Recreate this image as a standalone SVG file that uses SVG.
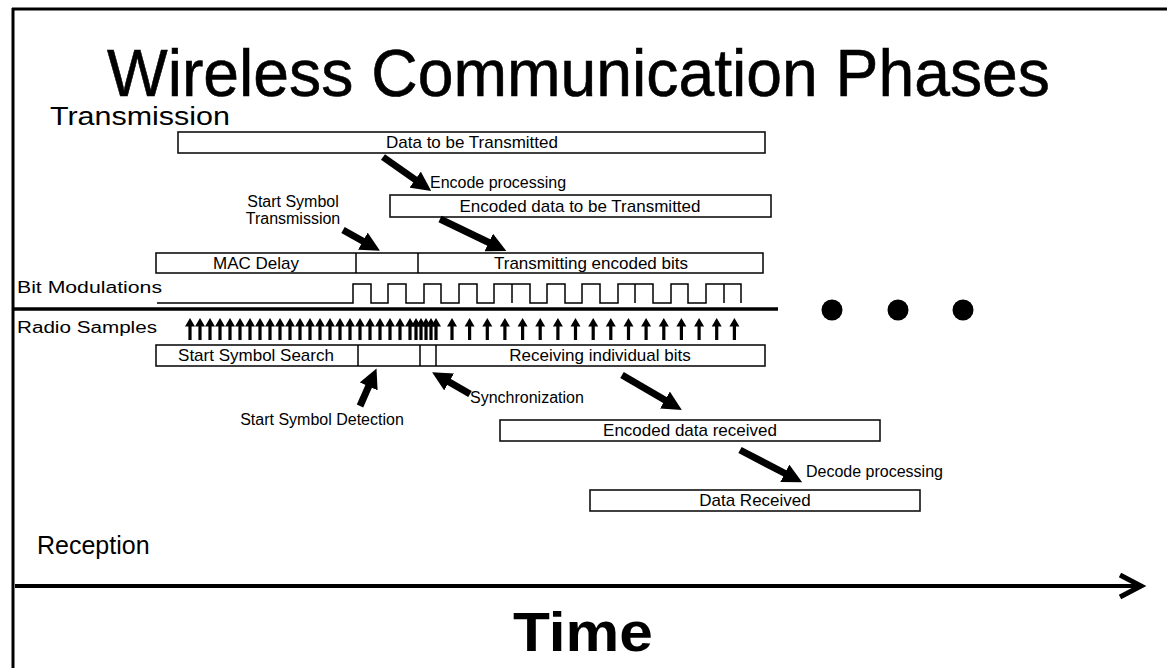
<svg xmlns="http://www.w3.org/2000/svg" xmlns:xlink="http://www.w3.org/1999/xlink" width="1167" height="668" viewBox="0 0 1167 668">
<style>
text{font-family:"Liberation Sans",Arial,sans-serif;fill:#000}
.box{fill:#fff;stroke:#111;stroke-width:1.6}
.bt{font-size:17px;text-anchor:middle}
.lbl{font-size:16px}
.fat{stroke:#000;stroke-width:7;fill:none;marker-end:url(#fah)}
.thin{stroke:#000;stroke-width:1.5;fill:none}
</style>
<defs>
<marker id="fah" viewBox="0 0 10 10" refX="3" refY="5" markerWidth="2.8" markerHeight="2.8" orient="auto" markerUnits="strokeWidth">
<path d="M0,0 L10,5 L0,10 z" fill="#000"/>
</marker>
<path id="up" d="M0,0 L5,8.5 L1.6,8.5 L1.6,22 L-1.6,22 L-1.6,8.5 L-5,8.5 z" fill="#000"/>
</defs>
<rect width="1167" height="668" fill="#fff"/>
<g id="frame">
<line x1="12" y1="9" x2="1167" y2="9" stroke="#000" stroke-width="3"/>
<line x1="13" y1="8" x2="13" y2="668" stroke="#000" stroke-width="3"/>
</g>
<g id="title"><text x="107" y="96" font-size="66" textLength="943" lengthAdjust="spacingAndGlyphs" stroke="#000" stroke-width="0.6">Wireless Communication Phases</text></g>
<g id="transmission-label"><text x="50" y="125" font-size="26" textLength="180" lengthAdjust="spacingAndGlyphs">Transmission</text></g>
<g id="data-tx"><rect class="box" x="178" y="132" width="587" height="21"/><text class="bt" x="472" y="148">Data to be Transmitted</text></g>
<g id="encode-label"><text class="lbl" x="430" y="188">Encode processing</text></g>
<g id="start-symbol-label"><text class="lbl" x="293" y="207" text-anchor="middle">Start Symbol</text><text class="lbl" x="293" y="224" text-anchor="middle">Transmission</text></g>
<g id="encoded-tx"><rect class="box" x="390" y="195" width="381" height="22"/><text class="bt" x="580" y="212">Encoded data to be Transmitted</text></g>
<g id="tx-row"><rect class="box" x="156" y="253" width="607" height="20"/><line class="thin" x1="356" y1="253" x2="356" y2="273"/><line class="thin" x1="418" y1="253" x2="418" y2="273"/><text class="bt" x="256" y="269">MAC Delay</text><text class="bt" x="591" y="269">Transmitting encoded bits</text></g>
<g id="bit-mod"><text class="lbl" x="17" y="293" font-size="15" textLength="145" lengthAdjust="spacingAndGlyphs">Bit Modulations</text>
<path class="thin" d="M157,303 H353 V284 H371 V303 H388 V284 H406 V303 H424 V284 H441 V303 H459 V284 H477 V303 H494 V284 H530 V303 H547 V284 H565 V303 H582 V284 H600 V303 H618 V284 H653 V303 H671 V284 H688 V303 H706 V284 H741 V303 M512,284 V303 M635,284 V303 M724,284 V303"/></g>
<g id="divider"><line x1="13" y1="309" x2="778" y2="309" stroke="#000" stroke-width="3.5"/></g>
<g id="dots"><circle cx="832" cy="310" r="10.5"/><circle cx="898" cy="310" r="10.5"/><circle cx="963" cy="310" r="10.5"/></g>
<g id="radio"><text class="lbl" x="17" y="333" font-size="15" textLength="140" lengthAdjust="spacingAndGlyphs">Radio Samples</text>
<use xlink:href="#up" x="190" y="318"/><use xlink:href="#up" x="200" y="318"/><use xlink:href="#up" x="210" y="318"/><use xlink:href="#up" x="220" y="318"/><use xlink:href="#up" x="230" y="318"/><use xlink:href="#up" x="240" y="318"/><use xlink:href="#up" x="250" y="318"/><use xlink:href="#up" x="260" y="318"/><use xlink:href="#up" x="270" y="318"/><use xlink:href="#up" x="280" y="318"/><use xlink:href="#up" x="290" y="318"/><use xlink:href="#up" x="300" y="318"/><use xlink:href="#up" x="310" y="318"/><use xlink:href="#up" x="320" y="318"/><use xlink:href="#up" x="330" y="318"/><use xlink:href="#up" x="340" y="318"/><use xlink:href="#up" x="350" y="318"/><use xlink:href="#up" x="360" y="318"/><use xlink:href="#up" x="370" y="318"/><use xlink:href="#up" x="380" y="318"/><use xlink:href="#up" x="390" y="318"/><use xlink:href="#up" x="400" y="318"/><use xlink:href="#up" x="410" y="318"/>
<use xlink:href="#up" x="416" y="318"/><use xlink:href="#up" x="421" y="318"/><use xlink:href="#up" x="426" y="318"/><use xlink:href="#up" x="431" y="318"/><use xlink:href="#up" x="436" y="318"/>
<use xlink:href="#up" x="452" y="318"/><use xlink:href="#up" x="469.6" y="318"/><use xlink:href="#up" x="487.3" y="318"/><use xlink:href="#up" x="504.9" y="318"/><use xlink:href="#up" x="522.6" y="318"/><use xlink:href="#up" x="540.2" y="318"/><use xlink:href="#up" x="557.9" y="318"/><use xlink:href="#up" x="575.5" y="318"/><use xlink:href="#up" x="593.2" y="318"/><use xlink:href="#up" x="610.8" y="318"/><use xlink:href="#up" x="628.5" y="318"/><use xlink:href="#up" x="646.1" y="318"/><use xlink:href="#up" x="663.8" y="318"/><use xlink:href="#up" x="681.4" y="318"/><use xlink:href="#up" x="699.1" y="318"/><use xlink:href="#up" x="716.7" y="318"/><use xlink:href="#up" x="734.4" y="318"/></g>
<g id="rx-row"><rect class="box" x="156" y="345" width="609" height="21"/><line class="thin" x1="358" y1="345" x2="358" y2="366"/><line class="thin" x1="420" y1="345" x2="420" y2="366"/><line class="thin" x1="436" y1="345" x2="436" y2="366"/><text class="bt" x="256" y="361">Start Symbol Search</text><text class="bt" x="600" y="361">Receiving individual bits</text></g>
<g id="ssd-label"><text class="lbl" x="322" y="425" text-anchor="middle">Start Symbol Detection</text></g>
<g id="sync-label"><text class="lbl" x="470" y="403">Synchronization</text></g>
<g id="encoded-rx"><rect class="box" x="500" y="420" width="380" height="21"/><text class="bt" x="690" y="436">Encoded data received</text></g>
<g id="decode-label"><text class="lbl" x="806" y="477">Decode processing</text></g>
<g id="data-rx"><rect class="box" x="590" y="490" width="330" height="21"/><text class="bt" x="755" y="506">Data Received</text></g>
<g id="reception-label"><text x="37" y="554" font-size="25">Reception</text></g>
<g id="time-axis"><line x1="15" y1="586" x2="1140" y2="586" stroke="#000" stroke-width="4"/><path d="M1120,575 L1141,586 L1120,597" fill="none" stroke="#000" stroke-width="5" stroke-linejoin="miter"/><text x="513" y="651" font-size="55" font-weight="bold" textLength="140" lengthAdjust="spacingAndGlyphs">Time</text></g>
<g id="connectors">
<line class="fat" x1="383" y1="157" x2="420" y2="183"/>
<line class="fat" x1="343" y1="230" x2="368" y2="244"/>
<line class="fat" x1="440" y1="219" x2="494" y2="245"/>
<line class="fat" x1="360" y1="406" x2="371" y2="381"/>
<line class="fat" x1="470" y1="394" x2="444" y2="379"/>
<line class="fat" x1="622" y1="375" x2="670" y2="403"/>
<line class="fat" x1="740" y1="450" x2="790" y2="476"/>
</g>
</svg>
